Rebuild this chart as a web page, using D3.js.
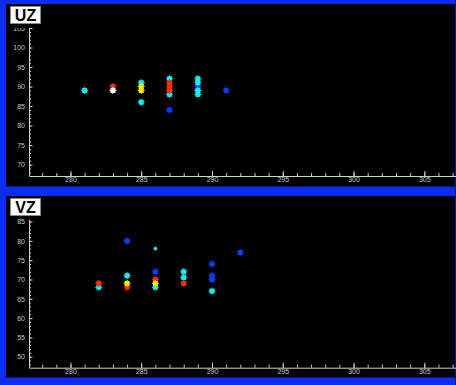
<!DOCTYPE html>
<html>
<head>
<meta charset="utf-8">
<script src="https://cdn.jsdelivr.net/npm/d3@7"></script>
<style>
  html, body { margin: 0; padding: 0; background: #0b2cf2; }
  svg { display: block; }
</style>
</head>
<body>
<div id="chart"></div>
<script>
// tick values
const xTicks = [280, 285, 290, 295, 300, 305];
const uzTicks = [70, 75, 80, 85, 90, 95, 100, 105];
const vzTicks = [50, 55, 60, 65, 70, 75, 80, 85];

// UZ points
const uzX = [287, 289, 291, 281, 285, 285, 287, 287, 289, 289, 289, 289, 283, 287, 287, 287, 283, 285, 285];
const uzY = [84, 90, 89, 89, 91, 86, 92, 88, 92, 91, 89, 88, 90, 91, 90, 89, 89, 90, 89];
const uzSeries = ["blue", "blue", "blue", "cyan", "cyan", "cyan", "cyan", "cyan", "cyan", "cyan", "cyan", "cyan",
  "red", "red", "red", "red", "white", "yellow", "yellow"];

// VZ points
const vzX = [284, 286, 290, 290, 290, 292, 282, 284, 286, 286, 288, 288, 290, 282, 284, 286, 288, 284, 286];
const vzY = [80, 72, 74, 71, 70, 77, 68, 71, 78, 68, 72, 70.5, 67, 69, 68, 70, 69, 69, 69];
const vzSeries = ["blue", "blue", "blue", "blue", "blue", "blue", "cyan", "cyan", "cyanSmall", "cyan", "cyan", "cyan", "cyan",
  "red", "red", "red", "red", "yellow", "yellow"];

const colors = {
  blue: "#0a3cff",
  cyan: "#12eef0",
  cyanSmall: "#12eef0",
  red: "#ff2a08",
  white: "#ffffff",
  yellow: "#ffee00"
};

const width = 456;
const height = 385;

const svg = d3.select("#chart")
  .append("svg")
  .attr("width", width)
  .attr("height", height);

svg.append("rect")
  .attr("width", width)
  .attr("height", height)
  .attr("fill", "#0b2cf2");

// right edge line
svg.append("rect")
  .attr("x", 455)
  .attr("width", 1)
  .attr("height", height)
  .attr("fill", "#061a90");

const x = d3.scaleLinear()
  .domain([277.07, 307.24])
  .range([29, 456]);

const axisColor = "#d0d0d0";

function drawPanel(opts) {
  const g = svg.append("g");

  // black background
  g.append("rect")
    .attr("x", 6)
    .attr("y", opts.top)
    .attr("width", 449)
    .attr("height", opts.bottom - opts.top)
    .attr("fill", "#000");

  const y = d3.scaleLinear()
    .domain(opts.domain)
    .range([opts.axisY, opts.axisTop]);

  // clip for the y labels (top one is cut in the original)
  const clipId = "clip-" + opts.title;
  svg.append("clipPath")
    .attr("id", clipId)
    .append("rect")
    .attr("x", -40)
    .attr("y", opts.clipTop)
    .attr("width", width)
    .attr("height", opts.bottom - opts.clipTop);

  // x axis, minor then major
  const xMinor = g.append("g")
    .attr("transform", `translate(0,${opts.axisY})`)
    .call(d3.axisBottom(x)
      .tickValues(d3.range(278, 308))
      .tickSize(-3)
      .tickSizeOuter(0)
      .tickFormat(""));
  xMinor.select(".domain").remove();
  xMinor.selectAll("line").attr("stroke", axisColor);

  const xMajor = g.append("g")
    .attr("transform", `translate(0,${opts.axisY})`)
    .call(d3.axisBottom(x)
      .tickValues(xTicks)
      .tickSize(-5)
      .tickSizeOuter(0)
      .tickPadding(1.5)
      .tickFormat(d3.format("d")));
  xMajor.select(".domain").attr("stroke", axisColor);
  xMajor.selectAll("line").attr("stroke", axisColor);
  xMajor.selectAll("text")
    .attr("fill", "#c8c8c8")
    .attr("font-size", 7)
    .attr("font-family", "Liberation Sans, Arial, sans-serif");

  // y axis
  const yMinor = g.append("g")
    .attr("transform", `translate(29,0)`)
    .call(d3.axisLeft(y)
      .tickValues(d3.range(Math.ceil(opts.domain[0]), Math.floor(opts.domain[1]) + 1))
      .tickSize(-2)
      .tickSizeOuter(0)
      .tickFormat(""));
  yMinor.select(".domain").remove();
  yMinor.selectAll("line").attr("stroke", axisColor);

  const yMajor = g.append("g")
    .attr("transform", `translate(29,0)`)
    .attr("clip-path", `url(#${clipId})`)
    .call(d3.axisLeft(y)
      .tickValues(opts.ticks)
      .tickSize(-3.5)
      .tickSizeOuter(0)
      .tickPadding(4)
      .tickFormat(d3.format("d")));
  yMajor.select(".domain").attr("stroke", axisColor);
  yMajor.selectAll("line").attr("stroke", axisColor);
  yMajor.selectAll("text")
    .attr("fill", "#c8c8c8")
    .attr("font-size", 7)
    .attr("font-family", "Liberation Sans, Arial, sans-serif");

  // points with small error bars
  const pts = opts.xs.map((d, i) => ({ x: d, y: opts.ys[i], s: opts.series[i] }));
  const marks = g.selectAll(".pt")
    .data(pts)
    .join("g")
    .attr("class", "pt")
    .attr("transform", d => `translate(${x(d.x)},${y(d.y)})`);

  marks.append("line")
    .attr("x1", 0).attr("x2", 0)
    .attr("y1", d => d.s === "cyanSmall" ? -2 : -3.5)
    .attr("y2", d => d.s === "cyanSmall" ? 2 : 3.5)
    .attr("stroke", d => colors[d.s])
    .attr("stroke-width", 1);
  marks.append("line")
    .attr("y1", 0).attr("y2", 0)
    .attr("x1", d => d.s === "cyanSmall" ? -2 : -3.5)
    .attr("x2", d => d.s === "cyanSmall" ? 2 : 3.5)
    .attr("stroke", d => colors[d.s])
    .attr("stroke-width", 1);
  marks.append("rect")
    .attr("x", d => d.s === "cyanSmall" ? -1.5 : -2.5)
    .attr("y", d => d.s === "cyanSmall" ? -1.5 : -2.5)
    .attr("width", d => d.s === "cyanSmall" ? 3 : 5)
    .attr("height", d => d.s === "cyanSmall" ? 3 : 5)
    .attr("fill", d => colors[d.s]);

  // title box
  g.append("rect")
    .attr("x", 10.5)
    .attr("y", opts.top + 2.5)
    .attr("width", 30)
    .attr("height", 17)
    .attr("fill", "#fff")
    .attr("stroke", "#8a8a8a");
  g.append("text")
    .attr("x", 25.5)
    .attr("y", opts.top + 16.7)
    .attr("text-anchor", "middle")
    .attr("font-size", 16)
    .attr("font-weight", "bold")
    .attr("font-family", "Liberation Sans, Arial, sans-serif")
    .attr("fill", "#000")
    .text(opts.title);
}

drawPanel({
  title: "UZ",
  top: 4, bottom: 186.5,
  axisY: 176, axisTop: 28, clipTop: 28,
  domain: [67.1, 105], ticks: uzTicks,
  xs: uzX, ys: uzY, series: uzSeries
});

drawPanel({
  title: "VZ",
  top: 196, bottom: 377.5,
  axisY: 367.7, axisTop: 219.3, clipTop: 196,
  domain: [47.15, 85.6], ticks: vzTicks,
  xs: vzX, ys: vzY, series: vzSeries
});
</script>
</body>
</html>
